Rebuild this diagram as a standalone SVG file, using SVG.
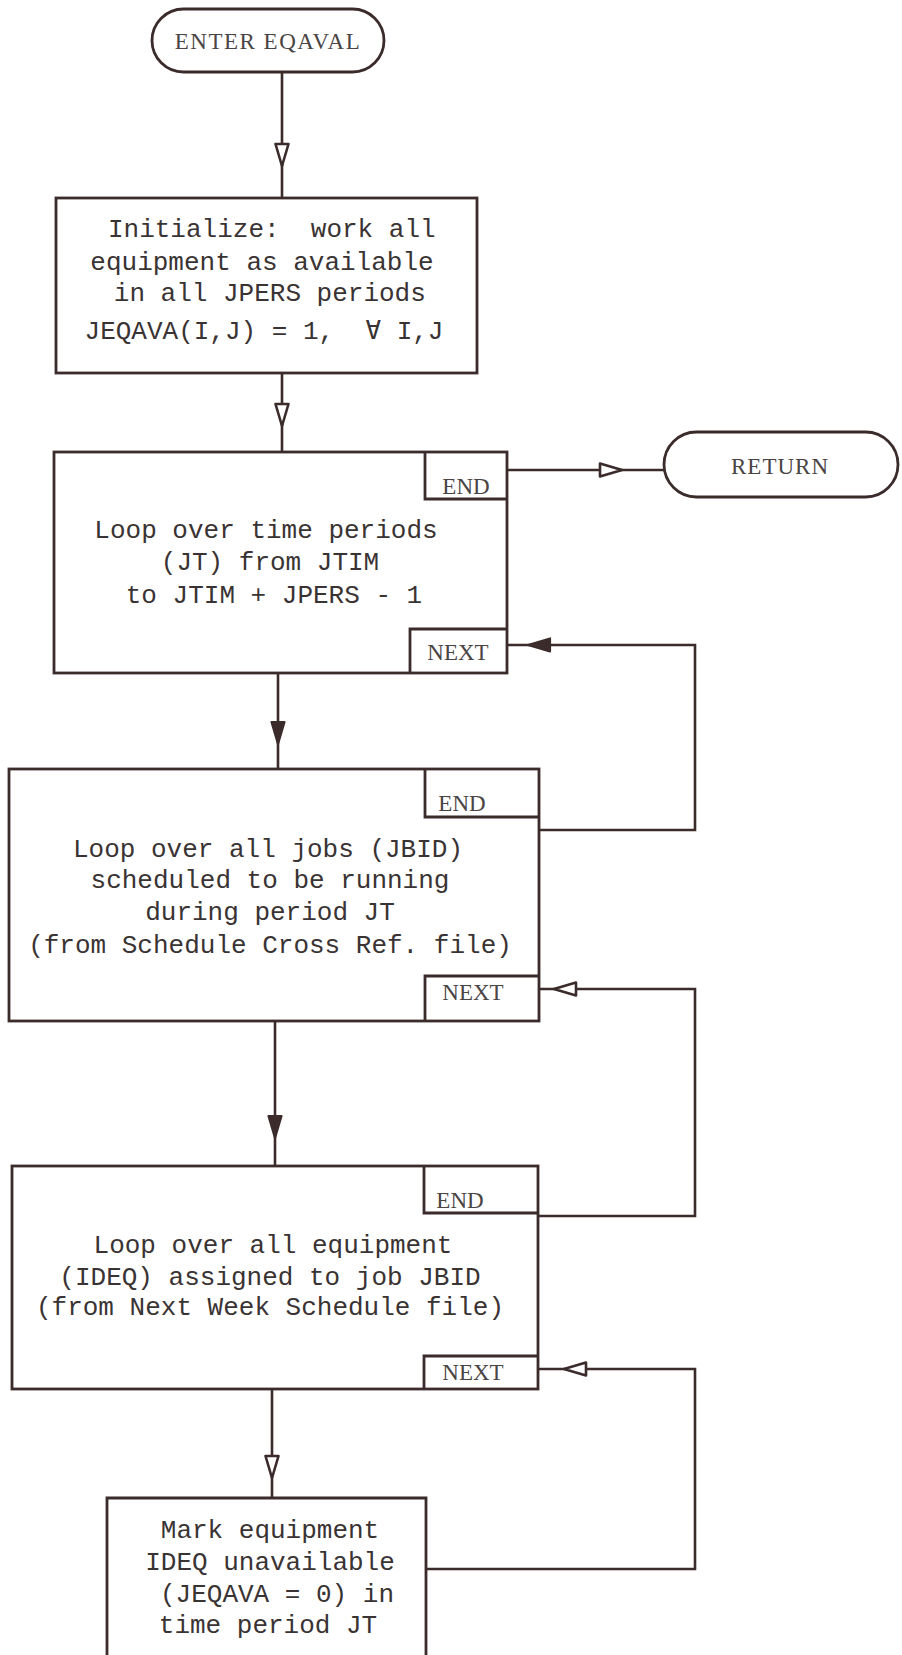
<svg xmlns="http://www.w3.org/2000/svg" width="902" height="1655" viewBox="0 0 902 1655">
<style>
.bx{fill:none;stroke:#3b2b2b;stroke-width:2.8;stroke-linejoin:miter}
.ln{fill:none;stroke:#3b2b2b;stroke-width:2.6}
.ah{fill:#fff;stroke:#3b2b2b;stroke-width:2.6;stroke-linejoin:round}
.af{fill:#3b2b2b;stroke:#3b2b2b;stroke-width:2.2;stroke-linejoin:round}
.m{font-family:"Liberation Mono","Courier New",monospace;font-size:26px;fill:#3a3333;text-anchor:middle;white-space:pre}
.s{font-family:"Liberation Serif","Times New Roman",serif;font-size:23px;fill:#4a4444;text-anchor:middle}
</style>
<defs>
<path id="tri" d="M0 0 L-6.5 -22 L6.5 -22 Z"/>
</defs>
<rect width="902" height="1655" fill="#fff"/>

<g id="connectors">
<path class="ln" d="M282 72 V198"/>
<use href="#tri" class="ah" transform="translate(282 166)"/>
<path class="ln" d="M282 373 V452"/>
<use href="#tri" class="ah" transform="translate(282 426)"/>
<path class="ln" d="M507 470 H664"/>
<use href="#tri" class="ah" transform="translate(622 470) rotate(-90)"/>
<path class="ln" d="M539 830 H695 V645 H507"/>
<use href="#tri" class="af" transform="translate(528 645) rotate(90)"/>
<path class="ln" d="M278 673 V769"/>
<use href="#tri" class="af" transform="translate(278 744)"/>
<path class="ln" d="M538 1216 H695 V989 H539"/>
<use href="#tri" class="ah" transform="translate(554 989) rotate(90)"/>
<path class="ln" d="M275 1021 V1166"/>
<use href="#tri" class="af" transform="translate(275 1138)"/>
<path class="ln" d="M426 1569 H695 V1369 H538"/>
<use href="#tri" class="ah" transform="translate(564 1369) rotate(90)"/>
<path class="ln" d="M272 1389 V1498"/>
<use href="#tri" class="ah" transform="translate(272 1478)"/>
</g>

<g id="enter">
<rect class="bx" x="152" y="9" width="232" height="63" rx="31.5"/>
<text class="s" x="268" y="49" letter-spacing="1.5">ENTER EQAVAL</text>
</g>

<g id="init">
<rect class="bx" x="56" y="198" width="421" height="175"/>
<text class="m" x="264" y="237" xml:space="preserve"> Initialize:  work all</text>
<text class="m" x="262" y="270">equipment as available</text>
<text class="m" x="262" y="301" xml:space="preserve"> in all JPERS periods</text>
<text class="m" x="264" y="339" xml:space="preserve">JEQAVA(I,J) = 1,  ∀ I,J</text>
</g>

<g id="loop1">
<rect class="bx" x="54" y="452" width="453" height="221"/>
<path class="bx" d="M425 452 V499 H507"/>
<text class="s" x="466" y="494">END</text>
<path class="bx" d="M410 673 V629 H507"/>
<text class="s" x="458" y="660">NEXT</text>
<text class="m" x="266" y="538">Loop over time periods</text>
<text class="m" x="270" y="570">(JT) from JTIM</text>
<text class="m" x="274" y="603">to JTIM + JPERS - 1</text>
</g>

<g id="return">
<rect class="bx" x="664" y="432" width="234" height="65" rx="32.5"/>
<text class="s" x="780" y="474" letter-spacing="1">RETURN</text>
</g>

<g id="loop2">
<rect class="bx" x="9" y="769" width="530" height="252"/>
<path class="bx" d="M425 769 V817 H539"/>
<text class="s" x="462" y="811">END</text>
<path class="bx" d="M425 1021 V976 H539"/>
<text class="s" x="473" y="1000">NEXT</text>
<text class="m" x="268" y="857">Loop over all jobs (JBID)</text>
<text class="m" x="270" y="888">scheduled to be running</text>
<text class="m" x="270" y="920">during period JT</text>
<text class="m" x="270" y="953">(from Schedule Cross Ref. file)</text>
</g>

<g id="loop3">
<rect class="bx" x="12" y="1166" width="526" height="223"/>
<path class="bx" d="M424 1166 V1213 H538"/>
<text class="s" x="460" y="1208">END</text>
<path class="bx" d="M424 1389 V1356 H538"/>
<text class="s" x="473" y="1380">NEXT</text>
<text class="m" x="273" y="1253">Loop over all equipment</text>
<text class="m" x="270" y="1285">(IDEQ) assigned to job JBID</text>
<text class="m" x="270" y="1315">(from Next Week Schedule file)</text>
</g>

<g id="mark">
<path class="bx" d="M107 1660 V1498 H426 V1660"/>
<text class="m" x="270" y="1538">Mark equipment</text>
<text class="m" x="270" y="1570">IDEQ unavailable</text>
<text class="m" x="277" y="1602">(JEQAVA = 0) in</text>
<text class="m" x="268" y="1633">time period JT</text>
</g>
</svg>
